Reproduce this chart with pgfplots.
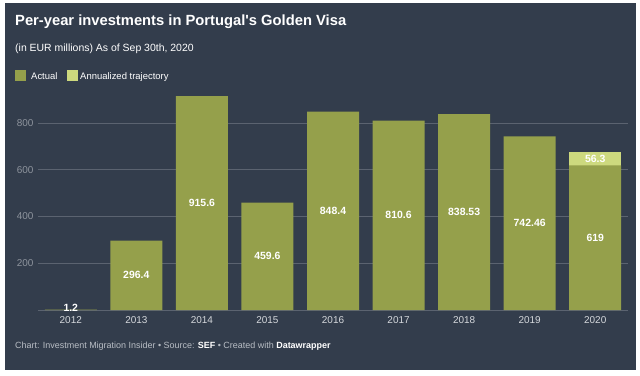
\documentclass[border=0pt]{standalone}
\usepackage{fontspec}
\setmainfont{Liberation Sans}
\usepackage{pgfplots}
\pgfplotsset{compat=1.18}
\definecolor{panel}{HTML}{333D4C}
\definecolor{actual}{HTML}{95A04B}
\definecolor{annual}{HTML}{CDD97E}
\definecolor{gridc}{HTML}{5B6370}
\definecolor{ytl}{HTML}{8E949D}
\definecolor{xtl}{HTML}{D5D8DC}
\definecolor{foot}{HTML}{B8BDC4}
\begin{document}
\begin{tikzpicture}[x=1bp,y=1bp]
\fill[white] (0,0) rectangle (640,375);
\useasboundingbox (0,0) rectangle (640,375);
\fill[panel] (5,5) rectangle (636,372);
\node[anchor=base west, text=white, font=\bfseries\fontsize{14.8}{17}\selectfont, inner sep=0] at (15,350) {Per-year investments in Portugal\textquotesingle s Golden Visa};
\node[anchor=base west, text=white, font=\fontsize{10.5}{12}\selectfont, inner sep=0] at (15,324) {(in EUR millions) As of Sep 30th, 2020};
\fill[actual] (15,294) rectangle (26,305);
\node[anchor=base west, text=white, font=\fontsize{9.5}{11}\selectfont, inner sep=0] at (31,296) {Actual};
\fill[annual] (67,294) rectangle (78,305);
\node[anchor=base west, text=white, font=\fontsize{9.5}{11}\selectfont, inner sep=0] at (80,296) {Annualized trajectory};
\node[anchor=base west, text=foot, font=\fontsize{9}{11}\selectfont, inner sep=0] at (15,27) {Chart: Investment Migration Insider • Source: \textcolor{white}{\bfseries SEF} • Created with \textcolor{white}{\bfseries Datawrapper}};
\begin{axis}[
  at={(38bp,65bp)}, anchor=south west, scale only axis,
  width=590bp, height=215bp,
  xmin=-0.5, xmax=8.5, ymin=0, ymax=920,
  axis line style={draw=none},
  major tick length=0pt,
  ytick={0,200,400,600,800},
  yticklabels={,200,400,600,800},
  ymajorgrids, grid style={gridc, line width=0.9bp},
  xtick={0,...,8},
  xticklabels={2012,2013,2014,2015,2016,2017,2018,2019,2020},
  yticklabel style={text=ytl, font=\fontsize{10}{12}\selectfont, xshift=-1bp},
  xticklabel style={text=xtl, font=\fontsize{10}{12}\selectfont, yshift=-3bp},
  clip=false,
]
\addplot[ybar, bar width=52bp, bar shift=0pt, fill=annual, draw=none] coordinates {(8,675.3)};
\addplot[ybar, bar width=52bp, bar shift=0pt, fill=actual, draw=none] coordinates {(0,1.2) (1,296.4) (2,915.6) (3,459.6) (4,848.4) (5,810.6) (6,838.53) (7,742.46) (8,619)};
\addplot[draw=none, mark=none, nodes near coords, point meta=explicit symbolic,
  every node near coord/.append style={anchor=center, text=white, font=\bfseries\fontsize{10.5}{12}\selectfont}]
  table[meta=lab] {
x y lab
0 10 1.2
1 148.2 296.4
2 457.8 915.6
3 229.8 459.6
4 424.2 848.4
5 405.3 810.6
6 419.3 838.53
7 371.2 742.46
8 309.5 619
8 647.15 56.3
};
\end{axis}
\end{tikzpicture}
\end{document}
